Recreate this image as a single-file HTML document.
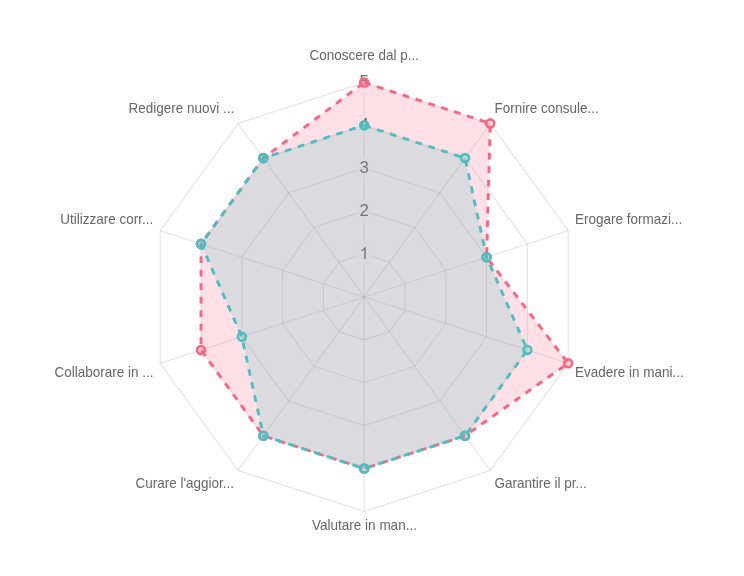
<!DOCTYPE html>
<html><head><meta charset="utf-8"><style>
html,body{margin:0;padding:0;background:#fff;width:744px;height:576px;overflow:hidden}
svg{display:block;will-change:transform;filter:blur(0.25px)}
.pl{font-family:"Liberation Sans",sans-serif;font-size:14px;fill:#666}
.tk{font-family:"Liberation Sans",sans-serif;font-size:16.875px;fill:#666}
</style></head><body>
<svg width="744" height="576" viewBox="0 0 744 576">
<polygon points="364.20,254.05 389.42,262.24 405.00,283.69 405.00,310.21 389.42,331.66 364.20,339.85 338.98,331.66 323.40,310.21 323.40,283.69 338.98,262.24" fill="none" stroke="rgba(0,0,0,0.11)" stroke-width="1.125"/>
<polygon points="364.20,211.15 414.63,227.54 445.80,270.44 445.80,323.46 414.63,366.36 364.20,382.75 313.77,366.36 282.60,323.46 282.60,270.44 313.77,227.54" fill="none" stroke="rgba(0,0,0,0.11)" stroke-width="1.125"/>
<polygon points="364.20,168.25 439.85,192.83 486.60,257.18 486.60,336.72 439.85,401.07 364.20,425.65 288.55,401.07 241.80,336.72 241.80,257.18 288.55,192.83" fill="none" stroke="rgba(0,0,0,0.11)" stroke-width="1.125"/>
<polygon points="364.20,125.35 465.06,158.12 527.40,243.92 527.40,349.98 465.06,435.78 364.20,468.55 263.34,435.78 201.00,349.98 201.00,243.92 263.34,158.12" fill="none" stroke="rgba(0,0,0,0.11)" stroke-width="1.125"/>
<polygon points="364.20,82.45 490.28,123.42 568.20,230.67 568.20,363.23 490.28,470.48 364.20,511.45 238.12,470.48 160.20,363.23 160.20,230.67 238.12,123.42" fill="none" stroke="rgba(0,0,0,0.11)" stroke-width="1.125"/>
<line x1="364.20" y1="296.95" x2="364.20" y2="82.45" stroke="rgba(0,0,0,0.11)" stroke-width="1.125"/>
<line x1="364.20" y1="296.95" x2="490.28" y2="123.42" stroke="rgba(0,0,0,0.11)" stroke-width="1.125"/>
<line x1="364.20" y1="296.95" x2="568.20" y2="230.67" stroke="rgba(0,0,0,0.11)" stroke-width="1.125"/>
<line x1="364.20" y1="296.95" x2="568.20" y2="363.23" stroke="rgba(0,0,0,0.11)" stroke-width="1.125"/>
<line x1="364.20" y1="296.95" x2="490.28" y2="470.48" stroke="rgba(0,0,0,0.11)" stroke-width="1.125"/>
<line x1="364.20" y1="296.95" x2="364.20" y2="511.45" stroke="rgba(0,0,0,0.11)" stroke-width="1.125"/>
<line x1="364.20" y1="296.95" x2="238.12" y2="470.48" stroke="rgba(0,0,0,0.11)" stroke-width="1.125"/>
<line x1="364.20" y1="296.95" x2="160.20" y2="363.23" stroke="rgba(0,0,0,0.11)" stroke-width="1.125"/>
<line x1="364.20" y1="296.95" x2="160.20" y2="230.67" stroke="rgba(0,0,0,0.11)" stroke-width="1.125"/>
<line x1="364.20" y1="296.95" x2="238.12" y2="123.42" stroke="rgba(0,0,0,0.11)" stroke-width="1.125"/>
<text x="364.20" y="59.80" text-anchor="middle" transform="translate(364.20 0) scale(0.9643 1) translate(-364.20 0)" class="pl">Conoscere dal p...</text>
<text x="494.49" y="113.27" text-anchor="start" transform="translate(494.49 0) scale(0.9643 1) translate(-494.49 0)" class="pl">Fornire consule...</text>
<text x="574.95" y="224.33" text-anchor="start" transform="translate(574.95 0) scale(0.9643 1) translate(-574.95 0)" class="pl">Erogare formazi...</text>
<text x="575.05" y="376.57" text-anchor="start" transform="translate(575.05 0) scale(0.9643 1) translate(-575.05 0)" class="pl">Evadere in mani...</text>
<text x="494.49" y="487.53" text-anchor="start" transform="translate(494.49 0) scale(0.9643 1) translate(-494.49 0)" class="pl">Garantire il pr...</text>
<text x="364.50" y="529.68" text-anchor="middle" transform="translate(364.50 0) scale(0.9643 1) translate(-364.50 0)" class="pl">Valutare in man...</text>
<text x="234.11" y="487.83" text-anchor="end" transform="translate(234.11 0) scale(0.9643 1) translate(-234.11 0)" class="pl">Curare l&#39;aggior...</text>
<text x="153.45" y="376.57" text-anchor="end" transform="translate(153.45 0) scale(0.9643 1) translate(-153.45 0)" class="pl">Collaborare in ...</text>
<text x="153.35" y="224.33" text-anchor="end" transform="translate(153.35 0) scale(0.9643 1) translate(-153.35 0)" class="pl">Utilizzare corr...</text>
<text x="234.31" y="113.17" text-anchor="end" transform="translate(234.31 0) scale(0.9643 1) translate(-234.31 0)" class="pl">Redigere nuovi ...</text>
<rect x="357.26" y="243.36" width="13.88" height="21.38" fill="rgba(255,255,255,0.75)"/>
<path transform="translate(359.507 259.050) scale(0.008240 -0.008240)" fill="#666" d="M763,0 L583,0 L583,1147 Q518,1085 420.5,1027.5 Q323,970 223,933 L223,1107 Q391,1186 503,1286 Q615,1386 659,1472 L763,1472 Z"/>
<rect x="357.26" y="200.46" width="13.88" height="21.38" fill="rgba(255,255,255,0.75)"/>
<text x="364.20" y="216.15" text-anchor="middle" class="tk">2</text>
<rect x="357.26" y="157.56" width="13.88" height="21.38" fill="rgba(255,255,255,0.75)"/>
<text x="364.20" y="173.25" text-anchor="middle" class="tk">3</text>
<rect x="357.26" y="114.66" width="13.88" height="21.38" fill="rgba(255,255,255,0.75)"/>
<text x="364.20" y="130.35" text-anchor="middle" class="tk">4</text>
<rect x="357.26" y="71.76" width="13.88" height="21.38" fill="rgba(255,255,255,0.75)"/>
<text x="364.20" y="87.45" text-anchor="middle" class="tk">5</text>
<path d="M364.20,82.45 L490.28,123.42 L486.60,257.18 L568.20,363.23 L465.06,435.78 L364.20,468.55 L263.34,435.78 L201.00,349.98 L201.00,243.92 L263.34,158.12 L364.20,82.45 Z" fill="rgba(255,99,132,0.2)" stroke="none"/>
<path d="M364.20,82.45 L490.28,123.42 L486.60,257.18 L568.20,363.23 L465.06,435.78 L364.20,468.55 L263.34,435.78 L201.00,349.98 L201.00,243.92 L263.34,158.12 L364.20,82.45" fill="none" stroke="rgb(255,99,132)" stroke-width="2.9" stroke-dasharray="6.75 6.75" stroke-linejoin="miter"/>
<circle cx="364.20" cy="82.45" r="4.0" fill="rgba(255,99,132,0.2)" stroke="rgb(255,99,132)" stroke-width="2.6"/>
<circle cx="490.28" cy="123.42" r="4.0" fill="rgba(255,99,132,0.2)" stroke="rgb(255,99,132)" stroke-width="2.6"/>
<circle cx="486.60" cy="257.18" r="4.0" fill="rgba(255,99,132,0.2)" stroke="rgb(255,99,132)" stroke-width="2.6"/>
<circle cx="568.20" cy="363.23" r="4.0" fill="rgba(255,99,132,0.2)" stroke="rgb(255,99,132)" stroke-width="2.6"/>
<circle cx="465.06" cy="435.78" r="4.0" fill="rgba(255,99,132,0.2)" stroke="rgb(255,99,132)" stroke-width="2.6"/>
<circle cx="364.20" cy="468.55" r="4.0" fill="rgba(255,99,132,0.2)" stroke="rgb(255,99,132)" stroke-width="2.6"/>
<circle cx="263.34" cy="435.78" r="4.0" fill="rgba(255,99,132,0.2)" stroke="rgb(255,99,132)" stroke-width="2.6"/>
<circle cx="201.00" cy="349.98" r="4.0" fill="rgba(255,99,132,0.2)" stroke="rgb(255,99,132)" stroke-width="2.6"/>
<circle cx="201.00" cy="243.92" r="4.0" fill="rgba(255,99,132,0.2)" stroke="rgb(255,99,132)" stroke-width="2.6"/>
<circle cx="263.34" cy="158.12" r="4.0" fill="rgba(255,99,132,0.2)" stroke="rgb(255,99,132)" stroke-width="2.6"/>
<path d="M364.20,125.35 L465.06,158.12 L486.60,257.18 L527.40,349.98 L465.06,435.78 L364.20,468.55 L263.34,435.78 L241.80,336.72 L201.00,243.92 L263.34,158.12 L364.20,125.35 Z" fill="rgba(75,192,192,0.2)" stroke="none"/>
<path d="M364.20,125.35 L465.06,158.12 L486.60,257.18 L527.40,349.98 L465.06,435.78 L364.20,468.55 L263.34,435.78 L241.80,336.72 L201.00,243.92 L263.34,158.12 L364.20,125.35" fill="none" stroke="rgb(75,192,192)" stroke-width="2.9" stroke-dasharray="6.75 6.75" stroke-linejoin="miter"/>
<circle cx="364.20" cy="125.35" r="4.0" fill="rgba(75,192,192,0.2)" stroke="rgb(75,192,192)" stroke-width="2.6"/>
<circle cx="465.06" cy="158.12" r="4.0" fill="rgba(75,192,192,0.2)" stroke="rgb(75,192,192)" stroke-width="2.6"/>
<circle cx="486.60" cy="257.18" r="4.0" fill="rgba(75,192,192,0.2)" stroke="rgb(75,192,192)" stroke-width="2.6"/>
<circle cx="527.40" cy="349.98" r="4.0" fill="rgba(75,192,192,0.2)" stroke="rgb(75,192,192)" stroke-width="2.6"/>
<circle cx="465.06" cy="435.78" r="4.0" fill="rgba(75,192,192,0.2)" stroke="rgb(75,192,192)" stroke-width="2.6"/>
<circle cx="364.20" cy="468.55" r="4.0" fill="rgba(75,192,192,0.2)" stroke="rgb(75,192,192)" stroke-width="2.6"/>
<circle cx="263.34" cy="435.78" r="4.0" fill="rgba(75,192,192,0.2)" stroke="rgb(75,192,192)" stroke-width="2.6"/>
<circle cx="241.80" cy="336.72" r="4.0" fill="rgba(75,192,192,0.2)" stroke="rgb(75,192,192)" stroke-width="2.6"/>
<circle cx="201.00" cy="243.92" r="4.0" fill="rgba(75,192,192,0.2)" stroke="rgb(75,192,192)" stroke-width="2.6"/>
<circle cx="263.34" cy="158.12" r="4.0" fill="rgba(75,192,192,0.2)" stroke="rgb(75,192,192)" stroke-width="2.6"/>
</svg>
</body></html>
